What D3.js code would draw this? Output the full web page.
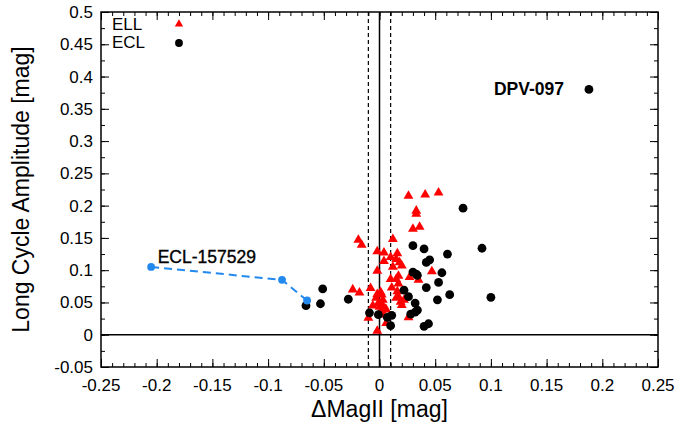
<!DOCTYPE html>
<html>
<head>
<meta charset="utf-8">
<script src="https://cdn.jsdelivr.net/npm/d3@7"></script>
<style>
  body { margin: 0; background: #fff; }
  svg { display: block; font-family: "Liberation Sans", Arial, Helvetica, sans-serif; }
</style>
</head>
<body>
<div class="chart"></div>
<script>
var svgWidth = 680;
var svgHeight = 426;
var margin = { top: 12, right: 22, bottom: 59, left: 101 };
var width = svgWidth - margin.left - margin.right;
var height = svgHeight - margin.top - margin.bottom;

// ELL stars (red triangles): [dMag, amplitude]
var ellX = [0.026, 0.041, 0.053, 0.033, 0.033, 0.030, 0.036, -0.019, -0.016, 0.012,
  -0.002, 0.004, 0.010, 0.016, 0.015, 0.004, 0.018, 0.020, 0.012, -0.002,
  0.047, 0.027, 0.017, 0.015, 0.035, 0.010, 0.017, -0.008, 0.011, -0.024,
  -0.018, 0.016, -0.002, 0.002, -0.003, 0.003, 0.015, 0.017, 0.022, 0.019,
  -0.001, 0.003, -0.006, 0.006, 0.002, -0.010, 0.003, 0.006, -0.002, 0.026,
  0.001, 0.020, 0.000, 0.005];
var ellY = [0.215, 0.217, 0.220, 0.192, 0.187, 0.164, 0.167, 0.147, 0.139, 0.148,
  0.129, 0.127, 0.120, 0.126, 0.117, 0.114, 0.112, 0.107, 0.105, 0.099,
  0.098, 0.089, 0.091, 0.086, 0.085, 0.086, 0.079, 0.072, 0.073, 0.070,
  0.065, 0.067, 0.063, 0.062, 0.057, 0.054, 0.057, 0.059, 0.054, 0.051,
  0.049, 0.045, 0.045, 0.039, 0.038, 0.026, 0.031, 0.018, 0.006, 0.027,
  0.066, 0.046, 0.043, 0.040];

// ECL stars (black dots)
var eclX = [0.075, 0.030, 0.040, 0.061, 0.092, 0.045, 0.042, 0.030, 0.033, 0.034,
  0.056, 0.053, 0.042, 0.022, 0.026, 0.063, 0.052, 0.100, 0.032, 0.034,
  0.032, 0.028, 0.040, 0.044, -0.009, -0.001, 0.007, 0.011, 0.010, -0.051,
  -0.053, -0.028, -0.066, 0.188];
var eclY = [0.196, 0.138, 0.133, 0.125, 0.134, 0.116, 0.112, 0.097, 0.094, 0.092,
  0.096, 0.081, 0.073, 0.069, 0.059, 0.062, 0.054, 0.058, 0.049, 0.038,
  0.035, 0.032, 0.013, 0.017, 0.034, 0.031, 0.027, 0.030, 0.014, 0.071,
  0.048, 0.055, 0.045, 0.380];

// ECL-157529 track (blue)
var trackX = [-0.205, -0.0875, -0.065];
var trackY = [0.105, 0.085, 0.053];

var xTicks = [-0.25, -0.2, -0.15, -0.1, -0.05, 0, 0.05, 0.1, 0.15, 0.2, 0.25];
var yTicks = [-0.05, 0, 0.05, 0.1, 0.15, 0.2, 0.25, 0.3, 0.35, 0.4, 0.45, 0.5];
var vLines = [-0.01, 0, 0.01];

var svg = d3.select('.chart').append('svg')
  .attr('width', svgWidth)
  .attr('height', svgHeight);

var chart = svg.append('g')
  .attr('transform', 'translate(' + margin.left + ',' + margin.top + ')');

var x = d3.scaleLinear().domain([-0.25, 0.25]).range([0, width]);
var y = d3.scaleLinear().domain([-0.05, 0.5]).range([height, 0]);

function fmt(d) { return d === 0 ? '0' : String(+d.toFixed(2)); }

// ticks on all four sides, pointing inward
function tickAxis(axis, vals, size) {
  return axis.tickValues(vals).tickSize(size).tickFormat('');
}
var xMinor = d3.range(-25, 26).map(function(i) { return i / 100; });
var yMinor = d3.range(-2, 21).map(function(i) { return i * 0.025; });

chart.append('g').attr('transform', 'translate(0,' + height + ')')
  .call(tickAxis(d3.axisTop(x), xMinor, 4));
chart.append('g').attr('transform', 'translate(0,' + height + ')')
  .call(tickAxis(d3.axisTop(x), xTicks, 8));
chart.append('g').call(tickAxis(d3.axisBottom(x), xMinor, 4));
chart.append('g').call(tickAxis(d3.axisBottom(x), xTicks, 8));
chart.append('g').call(tickAxis(d3.axisRight(y), yMinor, 4));
chart.append('g').call(tickAxis(d3.axisRight(y), yTicks, 8));
chart.append('g').attr('transform', 'translate(' + width + ',0)')
  .call(tickAxis(d3.axisLeft(y), yMinor, 4));
chart.append('g').attr('transform', 'translate(' + width + ',0)')
  .call(tickAxis(d3.axisLeft(y), yTicks, 8));
chart.selectAll('.domain').remove();
chart.selectAll('.tick line').attr('stroke', '#000').attr('stroke-width', 1);

// tick labels
chart.append('g').selectAll('text').data(xTicks).enter().append('text')
  .attr('x', function(d) { return x(d); })
  .attr('y', height + 24)
  .attr('text-anchor', 'middle')
  .style('font-size', '17px')
  .text(fmt);
chart.append('g').selectAll('text').data(yTicks).enter().append('text')
  .attr('x', -8)
  .attr('y', function(d) { return y(d) + 6; })
  .attr('text-anchor', 'end')
  .style('font-size', '17px')
  .text(fmt);

// reference lines
chart.append('line')
  .attr('x1', 0).attr('x2', width)
  .attr('y1', y(0)).attr('y2', y(0))
  .attr('stroke', '#000').attr('stroke-width', 1.3);
chart.selectAll('.vline').data(vLines).enter().append('line')
  .attr('class', 'vline')
  .attr('x1', function(d) { return x(d); })
  .attr('x2', function(d) { return x(d); })
  .attr('y1', 0).attr('y2', height)
  .attr('stroke', '#000')
  .attr('stroke-width', function(d) { return d === 0 ? 1.5 : 1.2; })
  .attr('stroke-dasharray', function(d) { return d === 0 ? null : '4,3'; });

// ELL triangles
var tri = d3.symbol().type(d3.symbolTriangle).size(42);
chart.selectAll('.ell').data(ellX).enter().append('path')
  .attr('class', 'ell')
  .attr('d', tri)
  .attr('transform', function(d, i) {
    return 'translate(' + x(d) + ',' + y(ellY[i]) + ')';
  })
  .attr('fill', '#ff0000');

// ECL circles
chart.selectAll('.ecl').data(eclX).enter().append('circle')
  .attr('class', 'ecl')
  .attr('cx', function(d) { return x(d); })
  .attr('cy', function(d, i) { return y(eclY[i]); })
  .attr('r', 4.4)
  .attr('fill', '#000');

// blue track
var line = d3.line()
  .x(function(d) { return x(d); })
  .y(function(d, i) { return y(trackY[i]); });
chart.append('path')
  .datum(trackX)
  .attr('d', line)
  .attr('fill', 'none')
  .attr('stroke', '#2289ee')
  .attr('stroke-width', 2)
  .attr('stroke-dasharray', '8,5');
chart.selectAll('.trk').data(trackX).enter().append('circle')
  .attr('cx', function(d) { return x(d); })
  .attr('cy', function(d, i) { return y(trackY[i]); })
  .attr('r', 3.9)
  .attr('fill', '#2289ee');

// annotations
chart.append('text')
  .attr('x', x(-0.2) + 1).attr('y', y(0.105) - 4)
  .style('font-size', '17.5px')
  .style('stroke', '#000').style('stroke-width', 0.35)
  .text('ECL-157529');
chart.append('text')
  .attr('x', x(0.188) - 25).attr('y', y(0.38) + 6)
  .attr('text-anchor', 'end')
  .style('font-size', '17.5px').style('font-weight', 'bold')
  .text('DPV-097');

// legend
var legend = chart.append('g');
legend.append('text').attr('x', 11).attr('y', 18)
  .style('font-size', '17px').text('ELL');
legend.append('text').attr('x', 11).attr('y', 36)
  .style('font-size', '17px').text('ECL');
legend.append('path')
  .attr('d', d3.symbol().type(d3.symbolTriangle).size(30))
  .attr('transform', 'translate(' + x(-0.18) + ',12)')
  .attr('fill', '#ff0000');
legend.append('circle')
  .attr('cx', x(-0.18)).attr('cy', 31).attr('r', 3.9)
  .attr('fill', '#000');

// frame
chart.append('rect')
  .attr('width', width).attr('height', height)
  .attr('fill', 'none').attr('stroke', '#000').attr('stroke-width', 1.5);

// axis titles
svg.append('text')
  .attr('x', margin.left + width / 2)
  .attr('y', 417)
  .attr('text-anchor', 'middle')
  .style('font-size', '23px')
  .text('\u0394MagII [mag]');
svg.append('text')
  .attr('transform', 'translate(29,' + (margin.top + height / 2) + ') rotate(-90)')
  .attr('text-anchor', 'middle')
  .style('font-size', '23px')
  .text('Long Cycle Amplitude [mag]');
</script>
</body>
</html>
